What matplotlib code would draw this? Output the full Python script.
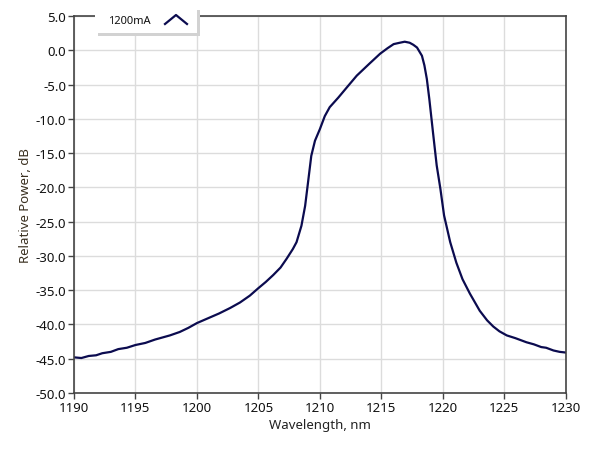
import matplotlib.pyplot as plt
from matplotlib.patches import Rectangle

plt.rcParams['font.family'] = ['Noto Sans', 'DejaVu Sans']
plt.rcParams['axes.unicode_minus'] = False

# spectrum
wavelength = [1190.0, 1190.6, 1191.2, 1191.8, 1192.3, 1193.0, 1193.6, 1194.3, 1195.0,
              1195.8, 1196.6, 1197.2, 1197.8, 1198.6, 1199.3, 1200.0, 1200.9, 1201.8,
              1202.7, 1203.5, 1204.3, 1205.0, 1205.6, 1206.2, 1206.8, 1207.3, 1207.8,
              1208.1, 1208.5, 1208.8, 1209.0, 1209.3, 1209.6, 1210.0, 1210.4, 1210.8,
              1211.5, 1212.2, 1213.0, 1214.0, 1214.9, 1215.5, 1216.0, 1216.5, 1216.9,
              1217.3, 1217.6, 1217.9, 1218.1, 1218.3, 1218.5, 1218.7, 1218.9, 1219.2,
              1219.5, 1219.8, 1220.1, 1220.6, 1221.1, 1221.6, 1222.2, 1223.0, 1223.6,
              1224.1, 1224.6, 1225.2, 1225.9, 1226.8, 1227.4, 1228.0, 1228.4, 1229.0,
              1229.5, 1230.0]
power_db = [-44.8, -44.9, -44.6, -44.5, -44.2, -44.0, -43.6, -43.4, -43.0,
            -42.7, -42.2, -41.9, -41.6, -41.1, -40.5, -39.8, -39.1, -38.4,
            -37.6, -36.8, -35.8, -34.7, -33.8, -32.8, -31.7, -30.4, -29.0,
            -28.0, -25.6, -22.7, -19.8, -15.4, -13.2, -11.5, -9.6, -8.3,
            -6.9, -5.4, -3.7, -2.0, -0.5, 0.3, 0.9, 1.1, 1.25,
            1.1, 0.8, 0.4, -0.2, -0.8, -2.2, -4.2, -7.1, -12.0,
            -16.8, -20.2, -24.1, -28.0, -31.0, -33.4, -35.5, -38.0, -39.4,
            -40.3, -41.0, -41.6, -42.0, -42.6, -42.9, -43.3, -43.4, -43.8,
            -44.0, -44.1]

x_ticks = list(range(1190, 1231, 5))
y_ticks = [5.0 - 5.0 * i for i in range(12)]
legend_label = "1200mA"

line_color = '#0b0b4f'

fig = plt.figure(figsize=(5.89, 4.56), dpi=100)
ax = fig.add_axes([0.1256, 0.136, 0.835, 0.8267])

ax.plot(wavelength, power_db, color=line_color, lw=1.6)

ax.set_xlim(1190, 1230)
ax.set_ylim(-50, 5)
ax.set_xticks(x_ticks)
ax.set_yticks(y_ticks)
ax.set_yticklabels([f"{v:.1f}" for v in y_ticks])
ax.grid(True, color='#dcdcdc', lw=1)
ax.set_axisbelow(True)
for s in ax.spines.values():
    s.set_color('#444444')
    s.set_linewidth(1.2)
ax.tick_params(axis='both', direction='out', length=4, width=1, color='#444444',
               labelsize=9.5, labelcolor='#111111', pad=1.5)
ax.set_xlabel("Wavelength, nm", fontsize=9.5, color='#222222', labelpad=3)
ax.set_ylabel("Relative Power, dB", fontsize=9.5, color='#3a3020', labelpad=3)

# legend box with drop shadow, drawn in figure coordinates
W, H = 589.0, 456.0
shadow = Rectangle((98 / W, 1 - 37 / H), 102 / W, 26 / H, transform=fig.transFigure,
                   facecolor='#d2d2d2', edgecolor='none', zorder=5)
box = Rectangle((95 / W, 1 - 34 / H), 102 / W, 26 / H, transform=fig.transFigure,
                facecolor='white', edgecolor='none', zorder=6)
fig.patches.extend([shadow, box])
fig.text(108 / W, 1 - 21 / H, legend_label, fontsize=8, color='#111111',
         va='center', ha='left', zorder=7)
fig.lines.append(plt.Line2D([165 / W, 176 / W, 187 / W],
                            [1 - 25 / H, 1 - 16 / H, 1 - 25 / H],
                            transform=fig.transFigure, color=line_color, lw=1.6, zorder=7))

fig.savefig("out.png", dpi=100)
